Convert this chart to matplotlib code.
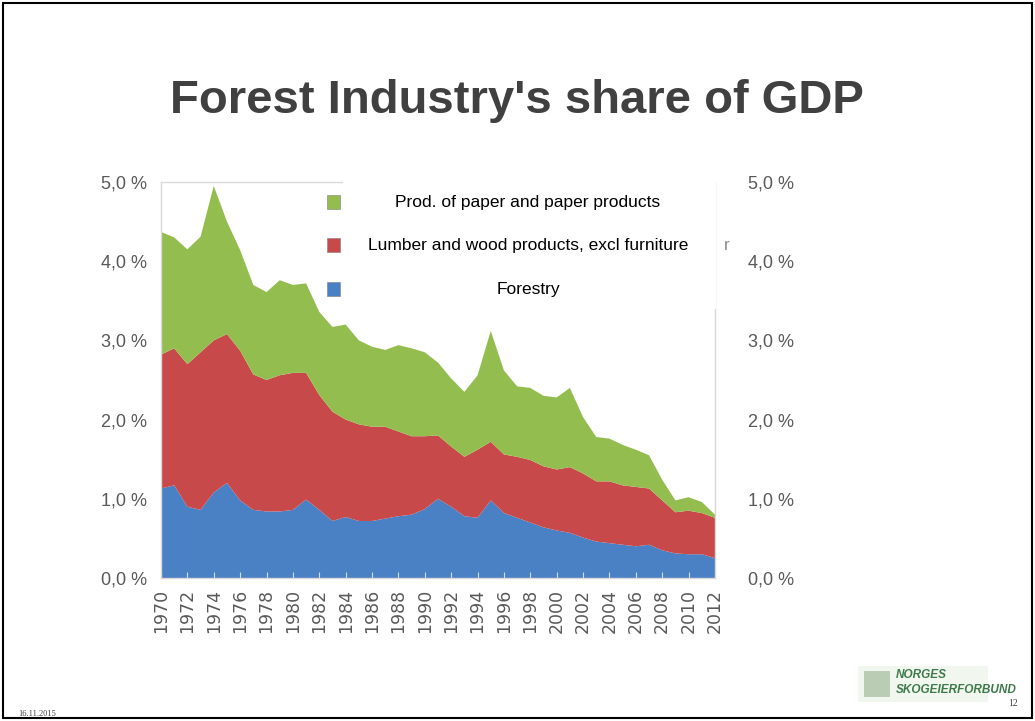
import matplotlib
matplotlib.use("Agg")
import matplotlib.pyplot as plt
from matplotlib.patches import Rectangle

# Share of GDP (%) per year
years = list(range(1970, 2013))
forestry = [1.13, 1.17, 0.90, 0.86, 1.08, 1.20, 0.98, 0.86, 0.84, 0.84,
            0.86, 0.99, 0.86, 0.72, 0.77, 0.72, 0.72, 0.75, 0.78, 0.80,
            0.87, 1.00, 0.90, 0.78, 0.76, 0.98, 0.82, 0.76, 0.70, 0.64,
            0.60, 0.57, 0.51, 0.46, 0.44, 0.42, 0.40, 0.42, 0.35, 0.31,
            0.30, 0.30, 0.25]
lumber = [1.69, 1.73, 1.80, 1.99, 1.92, 1.88, 1.89, 1.71, 1.66, 1.72,
          1.73, 1.60, 1.45, 1.38, 1.23, 1.22, 1.19, 1.16, 1.07, 0.99,
          0.92, 0.80, 0.76, 0.75, 0.86, 0.74, 0.74, 0.77, 0.79, 0.77,
          0.77, 0.83, 0.81, 0.76, 0.78, 0.75, 0.75, 0.71, 0.63, 0.52,
          0.55, 0.52, 0.51]
paper = [1.55, 1.40, 1.45, 1.46, 1.95, 1.42, 1.27, 1.13, 1.11, 1.20,
         1.11, 1.13, 1.05, 1.07, 1.20, 1.06, 1.01, 0.97, 1.09, 1.11,
         1.06, 0.92, 0.86, 0.82, 0.94, 1.40, 1.06, 0.89, 0.91, 0.89,
         0.91, 1.00, 0.71, 0.56, 0.54, 0.51, 0.47, 0.42, 0.26, 0.15,
         0.17, 0.14, 0.04]

series_labels = [
    "Prod. of paper and paper products",
    "Lumber and wood products, excl furniture",
    "Forestry",
]
colors = {"paper": "#93BE4F", "lumber": "#C8494A", "forestry": "#4A80C4"}

y_ticks = [0, 1, 2, 3, 4, 5]
y_ticklabels = ["0,0 %", "1,0 %", "2,0 %", "3,0 %", "4,0 %", "5,0 %"]
x_ticks = list(range(1970, 2013, 2))

W, H = 1035, 721
fig = plt.figure(figsize=(W / 100, H / 100), dpi=100)
fig.patch.set_facecolor("white")

ax = fig.add_axes([161 / W, 1 - 578 / H, (715 - 161) / W, (578 - 182) / H])
ax.stackplot(years, forestry, lumber, paper,
             colors=[colors["forestry"], colors["lumber"], colors["paper"]],
             linewidth=0)
ax.set_xlim(1970, 2012)
ax.set_ylim(0, 5)

for s in ax.spines.values():
    s.set_color("#D9D9D9")
    s.set_linewidth(1)

grey = "#595959"
ax.set_yticks(y_ticks)
ax.set_yticklabels(y_ticklabels, family="Liberation Sans", fontsize=13, color=grey)
ax.tick_params(axis="y", length=0, pad=10)
ax.set_xticks(x_ticks)
ax.set_xticklabels([str(y) for y in x_ticks], rotation=90,
                   family="DejaVu Sans", fontsize=12.5, color=grey)
ax.tick_params(axis="x", direction="in", length=4, color="#D0DCEB", pad=8)

ax2 = ax.twinx()
ax2.set_ylim(0, 5)
ax2.set_yticks(y_ticks)
ax2.set_yticklabels(y_ticklabels, family="Liberation Sans", fontsize=13, color=grey)
ax2.tick_params(axis="y", length=0, pad=24)
for s in ax2.spines.values():
    s.set_visible(False)

# white legend panel pasted over the chart
fig.patches.append(Rectangle((343 / W, 1 - 309 / H), (716 - 343) / W, (309 - 181) / H,
                             transform=fig.transFigure, facecolor="white",
                             edgecolor="none", zorder=5))
legend_y = [202, 245, 289]
legend_cols = [colors["paper"], colors["lumber"], colors["forestry"]]
for yy, c, lab in zip(legend_y, legend_cols, series_labels):
    fig.patches.append(Rectangle((327 / W, 1 - (yy + 7) / H), 13 / W, 14 / H,
                                 transform=fig.transFigure, facecolor=c,
                                 edgecolor="#7F7F7F", linewidth=0.4, zorder=6))
    fig.text(528 / W, 1 - yy / H, lab, ha="center", va="center",
             family="Liberation Sans", fontsize=12.5, color="black", zorder=7)
fig.text(727 / W, 1 - 245 / H, "r", ha="center", va="center",
         family="Liberation Sans", fontsize=12.5, color="#8C8C8C")

# title
fig.text(517 / W, 1 - 101 / H, "Forest Industry's share of GDP", ha="center",
         va="center", family="Liberation Sans", fontweight="bold",
         fontsize=34, color="#404040")

# footer
fig.text(18 / W, 1 - 714 / H, "16.11.2015", ha="left", va="center",
         family="Liberation Serif", fontsize=6, color="#404040")
fig.text(1013 / W, 1 - 704 / H, "12", ha="center", va="center",
         family="Liberation Serif", fontsize=7, color="#404040")
fig.patches.append(Rectangle((858 / W, 1 - 702 / H), (988 - 858) / W, 36 / H,
                             transform=fig.transFigure, facecolor="#F1F6EE",
                             edgecolor="none"))
fig.patches.append(Rectangle((864 / W, 1 - 697 / H), 26 / W, 26 / H,
                             transform=fig.transFigure, facecolor="#B9CDB5",
                             edgecolor="none"))
fig.text(896 / W, 1 - 675 / H, "NORGES", ha="left", va="center",
         family="Liberation Sans", fontweight="bold", style="italic",
         fontsize=8.5, color="#3D7A4A")
fig.text(896 / W, 1 - 690 / H, "SKOGEIERFORBUND", ha="left", va="center",
         family="Liberation Sans", fontweight="bold", style="italic",
         fontsize=8.5, color="#3D7A4A")

# slide frame
fig.patches.append(Rectangle((3 / W, 3 / H), (W - 6) / W, (H - 6) / H,
                             transform=fig.transFigure, facecolor="none",
                             edgecolor="black", linewidth=1.5))

fig.savefig("out.png", dpi=100)
